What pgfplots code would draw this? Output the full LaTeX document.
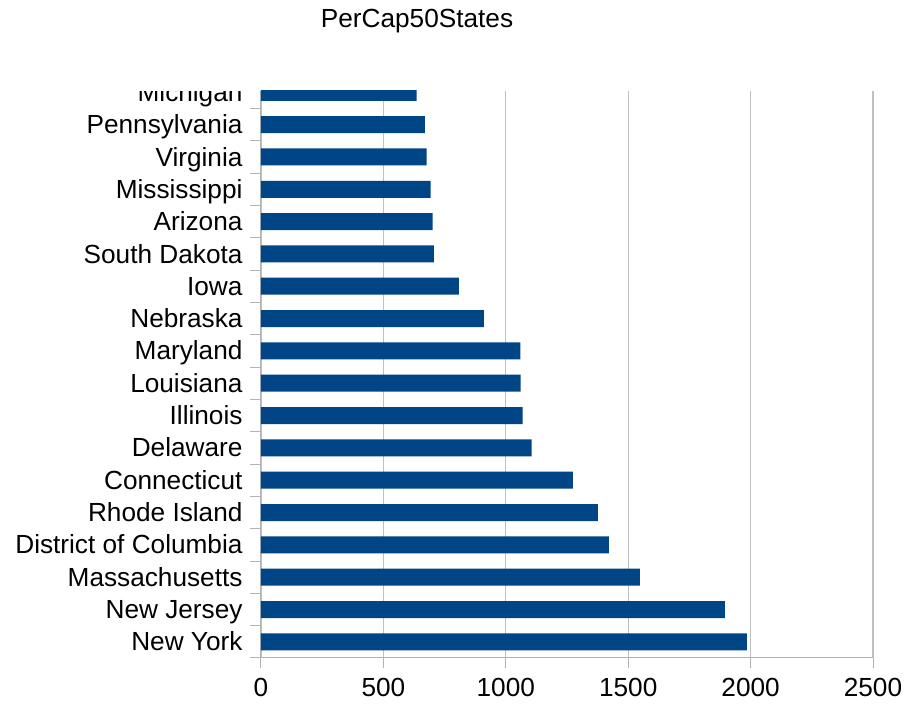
\documentclass[border=0pt]{standalone}
\usepackage{pgfplots}
\pgfplotsset{compat=1.18}
\usepackage{fontspec}
\setmainfont{Liberation Sans}
\definecolor{barblue}{HTML}{004586}
\definecolor{gridgray}{HTML}{C0C0C0}
\definecolor{axgray}{HTML}{B3B3B3}
\begin{document}
\begin{tikzpicture}[font=\fontsize{26.2}{31}\selectfont]
\path[use as bounding box] (0pt,0pt) rectangle (906pt,707pt);
\begin{axis}[
  at={(261pt,49pt)}, anchor=south west, scale only axis,
  width=612pt, height=567pt,
  xbar, bar width=17pt,
  xmin=0, xmax=2500, ymin=-0.5, ymax=17.04,
  xtick={0,500,...,2500},
  ytick={-0.5,0.5,...,16.5}, yticklabels={},
  extra y ticks={0,1,...,17},
  extra y tick labels={New York,New Jersey,Massachusetts,District of Columbia,Rhode Island,Connecticut,Delaware,Illinois,Louisiana,Maryland,Nebraska,Iowa,South Dakota,Arizona,Mississippi,Virginia,Pennsylvania,Michigan},
  extra y tick style={tick style={draw=none}},
  tick align=outside, major tick length=10.5pt,
  tick style={draw=axgray, line width=1pt},
  axis lines*=left,
  axis line style={draw=axgray, line width=1pt},
  xmajorgrids=true,
  grid style={draw=gridgray, line width=1.1pt},
  /pgf/number format/assume math mode=true,
  /pgf/number format/1000 sep={},
  tick label style={font=\fontsize{26.2}{31}\selectfont, text=black},
  xticklabel style={yshift=-6pt},
  yticklabel style={xshift=-4.5pt, text height=18.8pt, text depth=0.6pt},
]
\addplot[fill=barblue, draw=none] coordinates {
(1985,0) (1895,1) (1548,2) (1421,3) (1376,4) (1274,5) (1106,6) (1069,7) (1061,8)
(1060,9) (910,10) (808,11) (706,12) (701,13) (693,14) (677,15) (669,16) (636,17)
};
\end{axis}
\fill[white] (0pt,616pt) rectangle (259pt,665pt);
\node[anchor=base, font=\fontsize{26.2}{31}\selectfont] at (417pt,679pt) {PerCap50States};
\end{tikzpicture}
\end{document}
